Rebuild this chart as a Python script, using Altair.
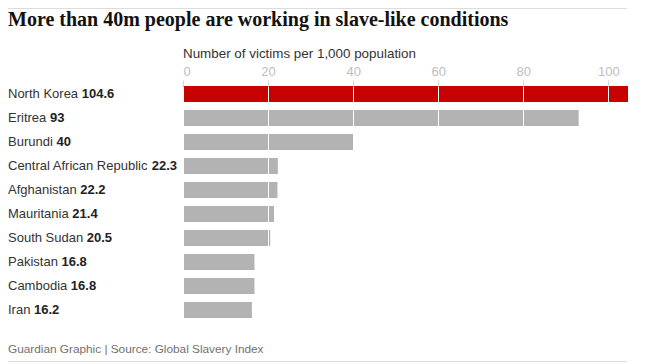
import glob
import struct

import altair as alt
import pandas as pd

# ---------------- data ----------------
countries = ["North Korea", "Eritrea", "Burundi", "Central African Republic",
             "Afghanistan", "Mauritania", "South Sudan", "Pakistan", "Cambodia", "Iran"]
values = [104.6, 93, 40, 22.3, 22.2, 21.4, 20.5, 16.8, 16.8, 16.2]
value_labels = ["104.6", "93", "40", "22.3", "22.2", "21.4", "20.5", "16.8", "16.8", "16.2"]
highlight = "North Korea"
tick_values = [0, 20, 40, 60, 80, 100]

title_text = "More than 40m people are working in slave-like conditions"
axis_title_text = "Number of victims per 1,000 population"
footer_text = "Guardian Graphic | Source: Global Slavery Index"

# ---------------- font metrics (for placing the bold value after the name) ----------------
def find_font(name):
    for root in ("/usr/share/fonts", "/usr/local/share/fonts", "/usr/share/fonts/truetype"):
        hits = glob.glob(f"{root}/**/{name}", recursive=True)
        if hits:
            return hits[0]
    return None


def load_metrics(path):
    data = open(path, "rb").read()
    num = struct.unpack(">H", data[4:6])[0]
    tables = {}
    for i in range(num):
        off = 12 + 16 * i
        tag = data[off:off + 4].decode("latin1")
        _, toff, tlen = struct.unpack(">III", data[off + 4:off + 16])
        tables[tag] = toff
    head = tables["head"]
    upem = struct.unpack(">H", data[head + 18:head + 20])[0]
    hhea = tables["hhea"]
    nhm = struct.unpack(">H", data[hhea + 34:hhea + 36])[0]
    hmtx = tables["hmtx"]
    adv = [struct.unpack(">H", data[hmtx + 4 * i:hmtx + 4 * i + 2])[0] for i in range(nhm)]
    cmap = tables["cmap"]
    n = struct.unpack(">H", data[cmap + 2:cmap + 4])[0]
    sub = None
    for i in range(n):
        pid, eid, off = struct.unpack(">HHI", data[cmap + 4 + 8 * i:cmap + 12 + 8 * i])
        fmt = struct.unpack(">H", data[cmap + off:cmap + off + 2])[0]
        if fmt == 4 and pid in (0, 3):
            sub = cmap + off
            break
    segx2 = struct.unpack(">H", data[sub + 6:sub + 8])[0]
    seg = segx2 // 2
    ends = struct.unpack(f">{seg}H", data[sub + 14:sub + 14 + segx2])
    so = sub + 16 + segx2
    starts = struct.unpack(f">{seg}H", data[so:so + segx2])
    do = so + segx2
    deltas = struct.unpack(f">{seg}h", data[do:do + segx2])
    ro = do + segx2
    ros = struct.unpack(f">{seg}H", data[ro:ro + segx2])

    def gid(c):
        for i in range(seg):
            if ends[i] >= c:
                if starts[i] > c:
                    return 0
                if ros[i] == 0:
                    return (c + deltas[i]) & 0xFFFF
                addr = ro + 2 * i + ros[i] + 2 * (c - starts[i])
                g = struct.unpack(">H", data[addr:addr + 2])[0]
                return (g + deltas[i]) & 0xFFFF if g else 0
        return 0

    def width(s, size):
        return sum(adv[min(gid(ord(ch)), nhm - 1)] for ch in s) * size / upem

    return width


def metrics_or_default(fname):
    p = find_font(fname)
    if p:
        try:
            return load_metrics(p)
        except Exception:
            pass
    return lambda s, size: 0.5 * size * len(s)


SANS = "Liberation Sans"
SERIF = "Liberation Serif"
sans_w = metrics_or_default("LiberationSans-Regular.ttf")
serif_bold_w = metrics_or_default("LiberationSerif-Bold.ttf")

LABEL_SIZE = 13
# sizes fitted to the reference's text widths
title_size = round(501 / serif_bold_w(title_text, 1), 1)
axis_title_size = round(234 / sans_w(axis_title_text, 1), 1)
footer_size = round(255 / sans_w(footer_text, 1), 1)

LEFT = -175  # text left edge relative to plot origin

df = pd.DataFrame({"country": countries, "value": values, "vlabel": value_labels})
df["vx"] = [LEFT + sans_w(c + " ", LABEL_SIZE) for c in countries]

one = pd.DataFrame({"k": [0]})

y_enc = alt.Y("country:N", sort=countries, axis=None,
              scale=alt.Scale(paddingInner=1 / 3, paddingOuter=0))
x_scale = alt.Scale(domain=[0, 104.6], nice=False)

bars = alt.Chart(df).mark_bar().encode(
    x=alt.X("value:Q", scale=x_scale,
            axis=alt.Axis(orient="top", values=tick_values, title=None, grid=True,
                          gridColor="white", gridWidth=1, tickColor="#d6d6d6",
                          tickSize=6, labelColor="#bdbdbd", labelFont=SANS,
                          labelFontSize=13, labelPadding=2, labelFlush=True,
                          domain=False, zindex=1)),
    y=y_enc,
    color=alt.condition(alt.datum.country == highlight,
                        alt.value("#c70000"), alt.value("#b3b3b3")),
)

names = alt.Chart(df).mark_text(align="left", baseline="middle", font=SANS,
                                fontSize=LABEL_SIZE, color="#333333").encode(
    x=alt.value(LEFT), y=y_enc, text="country:N")

vals = alt.Chart(df).mark_text(align="left", baseline="middle", font=SANS,
                               fontSize=LABEL_SIZE, fontWeight="bold",
                               color="#222222").encode(
    x=alt.X("vx:Q", scale=None), y=y_enc, text="vlabel:N")

title = alt.Chart(one).mark_text(align="left", baseline="alphabetic", font=SERIF,
                                 fontWeight="bold", fontSize=title_size,
                                 color="#121212").encode(
    x=alt.value(LEFT), y=alt.value(-60), text=alt.value(title_text))

axis_title = alt.Chart(one).mark_text(align="left", baseline="alphabetic", font=SANS,
                                      fontSize=axis_title_size, color="#333333").encode(
    x=alt.value(0), y=alt.value(-28), text=alt.value(axis_title_text))

footer = alt.Chart(one).mark_text(align="left", baseline="alphabetic", font=SANS,
                                  fontSize=footer_size, color="#707070").encode(
    x=alt.value(LEFT), y=alt.value(267), text=alt.value(footer_text))

top_rule = alt.Chart(one).mark_rule(color="#dcdcdc", strokeWidth=1).encode(
    x=alt.value(LEFT), x2=alt.value(444), y=alt.value(-77.5))

bottom_rule = alt.Chart(one).mark_rule(color="#dcdcdc", strokeWidth=1).encode(
    x=alt.value(LEFT), x2=alt.value(444), y=alt.value(275.5))

chart = alt.layer(bars, names, vals, title, axis_title, footer, top_rule, bottom_rule).properties(
    width=445, height=232,
    padding={"left": 175, "top": 78, "right": 10, "bottom": 46},
    autosize="none",
).configure_view(stroke=None)

chart.save("out.html", embed_options={"renderer": "svg", "actions": False})
